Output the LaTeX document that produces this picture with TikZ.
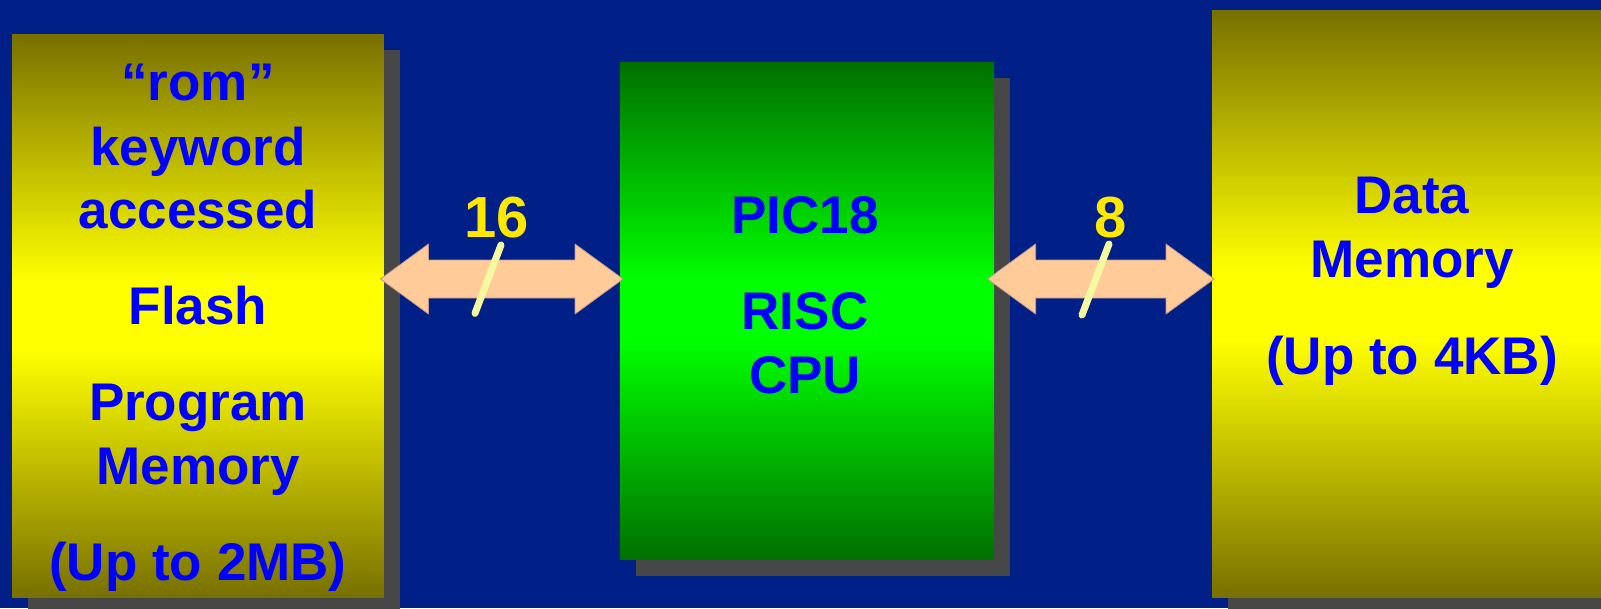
\documentclass[tikz,border=0pt]{standalone}
\usepackage{fontspec}
\setmainfont{Liberation Sans}
\usetikzlibrary{calc,shadows}
\definecolor{bg}{RGB}{0,32,136}
\definecolor{olv}{RGB}{120,112,0}
\definecolor{yel}{RGB}{255,255,0}
\definecolor{dgrn}{RGB}{0,112,0}
\definecolor{bgrn}{RGB}{0,255,0}
\definecolor{shd}{RGB}{71,71,71}
\definecolor{peach}{RGB}{255,204,153}
\definecolor{peachedge}{RGB}{190,150,140}
\definecolor{slashcol}{RGB}{245,250,160}
\definecolor{lbl}{RGB}{255,232,0}
\definecolor{txtblue}{RGB}{0,0,255}
\pgfdeclareverticalshading{yshade}{100bp}{color(0bp)=(olv); color(25bp)=(olv); color(47bp)=(yel); color(53bp)=(yel); color(75bp)=(olv); color(100bp)=(olv)}
\pgfdeclareverticalshading{gshade}{100bp}{color(0bp)=(dgrn); color(25bp)=(dgrn); color(47bp)=(bgrn); color(53bp)=(bgrn); color(75bp)=(dgrn); color(100bp)=(dgrn)}
\tikzset{
  membox/.style={rectangle, inner sep=0pt, outer sep=0pt, shade,
    drop shadow={shadow xshift=16pt, shadow yshift=-16pt, fill=shd, opacity=1}},
  memtxt/.style={anchor=base, text=txtblue, inner sep=0pt,
    font=\fontsize{53}{64}\selectfont\bfseries},
  buslbl/.style={anchor=base, text=lbl, inner sep=0pt,
    font=\fontsize{58}{70}\selectfont\bfseries},
  busarrow/.style={fill=peach, draw=peachedge, line width=0.8pt, line join=round},
  slashline/.style={draw=slashcol, line width=7pt, line cap=round}
}
\newcommand\drawbus[2]{%
  \filldraw[busarrow] (#1) -- ++(48,-35) -- ++(0,16) -- ($(#2)+(-48,-19)$)
    -- ++(0,-16) -- (#2) -- ++(-48,35) -- ++(0,-16) -- ($(#1)+(48,19)$)
    -- ++(0,16) -- cycle;}
\begin{document}
\begin{tikzpicture}[x=1pt, y=-1pt]
\useasboundingbox (0,0) rectangle (1601,608);
\clip (0,0) rectangle (1601,608);
\fill[bg] (0,0) rectangle (1601,608);

% boxes
\node[membox, shading=yshade, minimum width=371.5pt, minimum height=563pt] (flash) at (197.75,315.5) {};
\node[membox, shading=gshade, minimum width=374pt, minimum height=497.5pt] (cpu) at (807,310.75) {};
\node[membox, shading=yshade, minimum width=398pt, minimum height=587pt] (dmem) at (1411,304) {};

% box texts
\foreach \txt/\yy [count=\i] in {“rom”/100, keyword/165, accessed/228, Flash/324, Program/420, Memory/484, (Up to 2MB)/580}
  \node[memtxt] (ltxt\i) at (198,\yy) {\txt};
\foreach \txt/\yy [count=\i] in {PIC18/233.4, RISC/329.6, CPU/393.6}
  \node[memtxt] (ctxt\i) at (805,\yy) {\txt};
\foreach \txt/\yy [count=\i] in {Data/213, Memory/277, (Up to 4KB)/374}
  \node[memtxt] (rtxt\i) at (1412,\yy) {\txt};

% buses
\coordinate (busy) at (0,279);
\coordinate (b1l) at ($(flash.east |- busy)+(-3,0)$);
\coordinate (b1r) at ($(cpu.west |- busy)+(3,0)$);
\coordinate (b2l) at ($(cpu.east |- busy)+(-6.4,0)$);
\coordinate (b2r) at ($(dmem.west |- busy)+(2,0)$);
\drawbus{b1l}{b1r}
\drawbus{b2l}{b2r}

% width marks
\draw[slashline] (475,313.3) -- (501,245);
\draw[slashline] (1082,315) -- (1109,244);
\node[buslbl] (w16) at (497,237) {16};
\node[buslbl] (w8) at (1111,237) {8};
\end{tikzpicture}
\end{document}
